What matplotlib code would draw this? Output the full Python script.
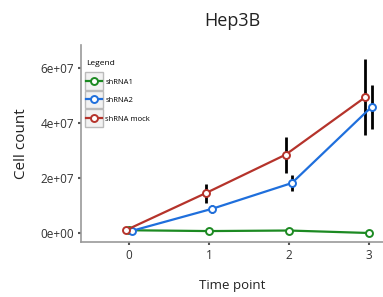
import numpy as np
import matplotlib.pyplot as plt
from matplotlib.patches import Rectangle
from matplotlib.legend_handler import HandlerLine2D

plt.rcParams['font.family'] = ['Open Sans', 'DejaVu Sans']

# Data
time_points = [0, 1, 2, 3]
series_names = ["shRNA1", "shRNA2", "shRNA mock"]
shrna1 = [1.0e6, 0.7e6, 0.9e6, 0.0]
shrna2 = [0.8e6, 8.8e6, 18.2e6, 46.0e6]
mock = [1.0e6, 14.5e6, 28.5e6, 49.5e6]
shrna1_err = [0, 0, 0, 0]
shrna2_err = [0, 1.5e6, 3.0e6, 8.0e6]
mock_err = [0, 3.5e6, 6.5e6, 14.0e6]

colors = ["#1c8a22", "#1f6fdc", "#b5332b"]
offsets = [0.0, 0.04, -0.04]


# legend key with grey box behind it, ggplot style
class BoxedLine(HandlerLine2D):
    def create_artists(self, legend, orig_handle, xdescent, ydescent, width, height, fontsize, trans):
        arts = super().create_artists(legend, orig_handle, xdescent, ydescent, width, height, fontsize, trans)
        size = width * 1.15
        box = Rectangle((-xdescent + width / 2 - size / 2, -ydescent + height / 2 - size / 2), size, size,
                        facecolor='#f2f2f2', edgecolor='#bbbbbb', lw=1.0, transform=trans)
        return [box] + arts


fig = plt.figure(figsize=(3.83, 2.97), dpi=100)
ax = fig.add_axes([0.2115, 0.185, 0.7885, 0.663])

all_vals = [shrna1, shrna2, mock]
all_errs = [shrna1_err, shrna2_err, mock_err]
x = np.array(time_points, dtype=float)
for vals, errs, col, off, name in zip(all_vals, all_errs, colors, offsets, series_names):
    xs = x + off
    ax.errorbar(xs, vals, yerr=errs, fmt='none', ecolor='black', elinewidth=2.0, capsize=0, zorder=2)
    ax.plot(xs, vals, color=col, lw=1.6, marker='o', markersize=5,
            markerfacecolor='white', markeredgecolor=col, markeredgewidth=1.4,
            label=name, zorder=3)

ax.set_xlim(-0.6, 3.18)
ax.set_ylim(-3.3e6, 68.4e6)
ax.set_xticks(time_points)
ax.set_yticks([0, 2e7, 4e7, 6e7])
ax.set_yticklabels(["0e+00", "2e+07", "4e+07", "6e+07"])
ax.tick_params(axis='both', length=2, width=1.5, color='#555555', labelsize=8.5,
               labelcolor='#333333', pad=3)

for side in ['top', 'right']:
    ax.spines[side].set_visible(False)
for side in ['left', 'bottom']:
    ax.spines[side].set_color('#999999')
    ax.spines[side].set_linewidth(1.2)

ax.set_title("Hep3B", fontsize=13, pad=14, color='#222222')
ax.set_ylabel("Cell count", fontsize=11, labelpad=8, color='#222222')
ax.set_xlabel("Time point", fontsize=9.5, labelpad=12, color='#222222')

leg = ax.legend(loc='upper left', bbox_to_anchor=(0.0, 0.95), frameon=False,
                title="Legend", fontsize=5.5, title_fontsize=6, handlelength=2.0,
                handleheight=0.9, handletextpad=0.5, labelspacing=1.4, borderaxespad=0.3,
                handler_map={plt.Line2D: BoxedLine()})
leg._legend_box.align = "left"

fig.savefig("out.png", dpi=100)
